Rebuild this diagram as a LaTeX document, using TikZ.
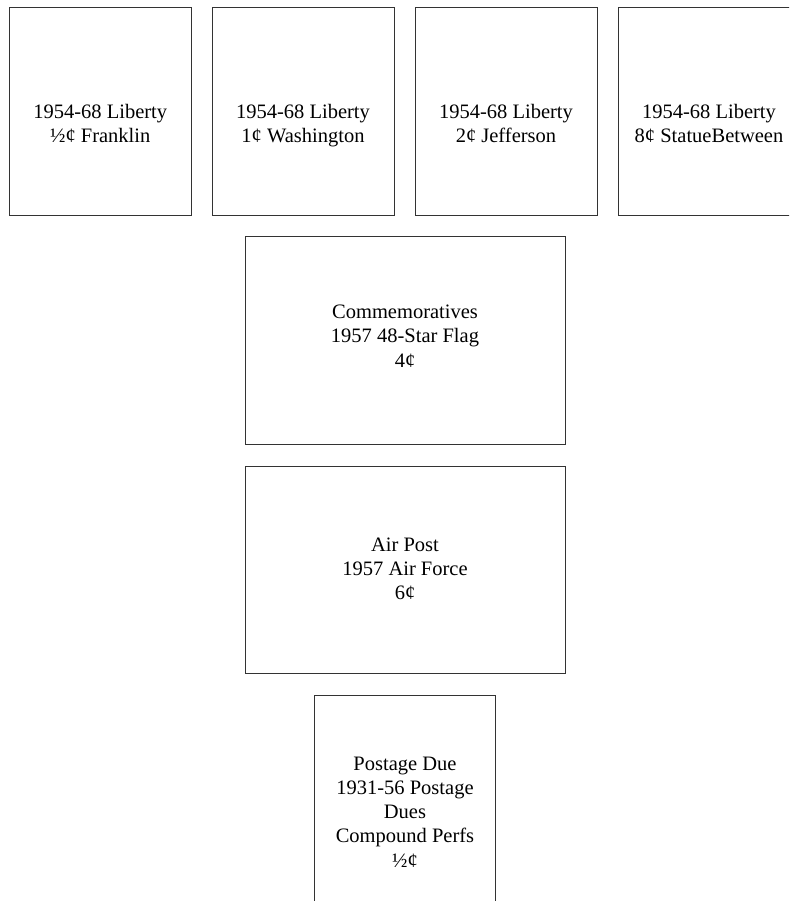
\documentclass[tikz,border=0pt]{standalone}
\usepackage{fontspec}
\setmainfont{Liberation Serif}
\newcommand{\toprule}{\rule{0pt}{15pt}}
\begin{document}
\begin{tikzpicture}[x=1pt,y=-1pt,
  stampbox/.style={draw=black!80, line width=0.9pt, inner sep=0pt, outer sep=0pt},
  lbl/.style={align=center, anchor=north, font=\fontsize{20.5}{24.2}\selectfont, inner sep=0pt}]
\useasboundingbox (0,0) rectangle (789,901);
\clip (0,0) rectangle (789,901);
% row 1
\node[stampbox, minimum width=181.5pt, minimum height=207.5pt] (b1) at (100.25,111.25) {};
\node[stampbox, minimum width=182pt, minimum height=207.5pt] (b2) at (303,111.25) {};
\node[stampbox, minimum width=182pt, minimum height=207.5pt] (b3) at (506,111.25) {};
\node[stampbox, minimum width=182pt, minimum height=207.5pt] (b4) at (709,111.25) {};
\node[lbl] (t1) at (100.25,103.3) {\toprule 1954-68 Liberty\\½¢ Franklin};
\node[lbl] (t2) at (303,103.3) {\toprule 1954-68 Liberty\\1¢ Washington};
\node[lbl] (t3) at (506,103.3) {\toprule 1954-68 Liberty\\2¢ Jefferson};
\node[lbl] (t4) at (709,103.3) {\toprule 1954-68 Liberty\\8¢ StatueBetween};
% commemoratives
\node[stampbox, minimum width=320pt, minimum height=208pt] (b5) at (405,340) {};
\node[lbl] (t5) at (405,303.5) {\toprule Commemoratives\\1957 48-Star Flag\\4¢};
% air post
\node[stampbox, minimum width=320pt, minimum height=207pt] (b6) at (405,569.5) {};
\node[lbl] (t6) at (405,536) {\toprule Air Post\\1957 Air Force\\6¢};
% postage due
\node[stampbox, minimum width=181pt, minimum height=216pt] (b7) at (405,803) {};
\node[lbl] (t7) at (405,755) {\toprule Postage Due\\1931-56 Postage\\Dues\\Compound Perfs\\½¢};
\end{tikzpicture}
\end{document}
